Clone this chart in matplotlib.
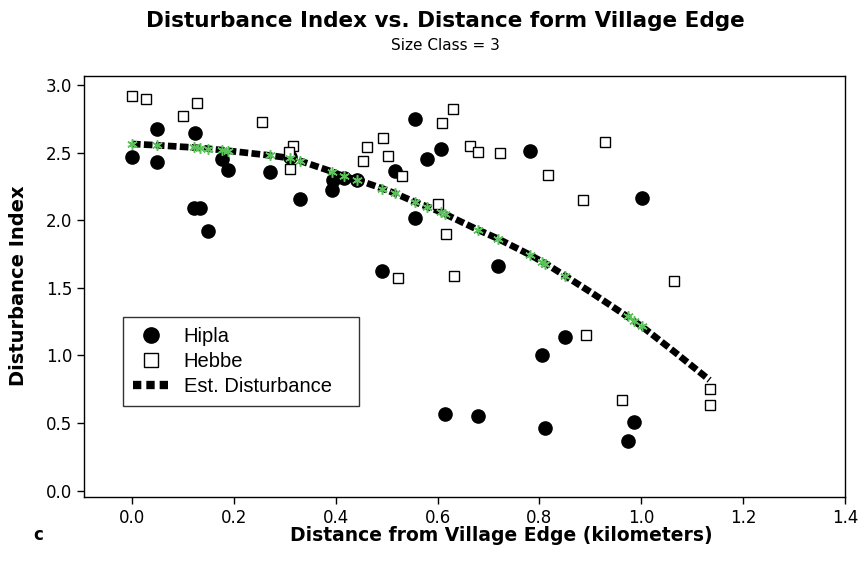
import matplotlib
matplotlib.use("Agg")
import matplotlib.pyplot as plt
from matplotlib.lines import Line2D

# ── Data ──────────────────────────────────────────────────────────────────────
hipla_x = [0.000, 0.050, 0.050, 0.124, 0.122, 0.134, 0.149, 0.176, 0.188, 0.271,
           0.310, 0.330, 0.393, 0.395, 0.416, 0.442, 0.492, 0.516, 0.556, 0.556,
           0.580, 0.607, 0.615, 0.679, 0.718, 0.781, 0.806, 0.812, 0.850, 0.973,
           0.986, 1.001]
hipla_y = [2.465, 2.674, 2.433, 2.645, 2.093, 2.093, 1.918, 2.452, 2.371, 2.359,
           2.470, 2.155, 2.223, 2.297, 2.310, 2.297, 1.626, 2.366, 2.746, 2.014,
           2.450, 2.525, 0.567, 0.554, 1.664, 2.514, 1.003, 0.461, 1.134, 0.367,
           0.505, 2.162]

hebbe_x = [0.000, 0.028, 0.100, 0.127, 0.256, 0.317, 0.309, 0.310, 0.453, 0.461,
           0.493, 0.503, 0.523, 0.531, 0.601, 0.609, 0.617, 0.630, 0.632, 0.664,
           0.679, 0.723, 0.817, 0.886, 0.891, 0.929, 0.963, 1.064, 1.134, 1.134]
hebbe_y = [2.920, 2.894, 2.773, 2.869, 2.729, 2.551, 2.502, 2.379, 2.440, 2.544,
           2.606, 2.475, 1.570, 2.327, 2.120, 2.721, 1.898, 2.822, 1.590, 2.549,
           2.502, 2.495, 2.337, 2.149, 1.151, 2.581, 0.670, 1.553, 0.751, 0.633]

# estimated disturbance curve
est_x = [0.000, 0.050, 0.124, 0.149, 0.188, 0.271, 0.310, 0.330, 0.393, 0.416,
         0.442, 0.492, 0.516, 0.556, 0.580, 0.607, 0.679, 0.718, 0.781, 0.812,
         0.850, 0.900, 0.950, 1.001, 1.064, 1.134]
est_y = [2.565, 2.555, 2.538, 2.530, 2.515, 2.480, 2.460, 2.440, 2.360, 2.325,
         2.300, 2.235, 2.200, 2.135, 2.100, 2.060, 1.930, 1.865, 1.745, 1.680,
         1.590, 1.470, 1.345, 1.215, 1.030, 0.818]

# fitted values at the Hipla distances (green stars)
star_x = [0.000, 0.050, 0.122, 0.134, 0.149, 0.176, 0.188, 0.271, 0.310, 0.330,
          0.393, 0.416, 0.442, 0.492, 0.516, 0.556, 0.580, 0.607, 0.615, 0.679,
          0.718, 0.781, 0.806, 0.812, 0.850, 0.973, 0.986, 1.001]
star_y = [2.565, 2.555, 2.540, 2.535, 2.530, 2.520, 2.515, 2.480, 2.460, 2.440,
          2.360, 2.325, 2.300, 2.235, 2.200, 2.135, 2.100, 2.060, 2.045, 1.930,
          1.865, 1.745, 1.690, 1.680, 1.590, 1.290, 1.255, 1.215]

x_ticks = [0.0, 0.2, 0.4, 0.6, 0.8, 1.0, 1.2, 1.4]
y_ticks = [0.0, 0.5, 1.0, 1.5, 2.0, 2.5, 3.0]

plt.rcParams["font.family"] = ["DejaVu Sans"]

fig = plt.figure(figsize=(8.59, 5.72), dpi=100)
ax = fig.add_axes([0.0978, 0.131, 0.8859, 0.736])

ax.plot(est_x, est_y, color="black", linewidth=4.8, linestyle=(0, (1.3, 0.5)),
        dash_capstyle="butt", zorder=2)
ax.plot(hipla_x, hipla_y, "o", color="black", markersize=9.5,
        linestyle="none", zorder=3)
ax.plot(hebbe_x, hebbe_y, "s", markerfacecolor="white", markeredgecolor="black",
        markeredgewidth=1.0, markersize=7.6, linestyle="none", zorder=4)
ax.plot(star_x, star_y, marker=(6, 2, 0), color="#5cc25c", markersize=7.5,
        markeredgewidth=1.1, linestyle="none", zorder=5)

ax.set_xlim(-0.094, 1.4)
ax.set_ylim(-0.048, 3.067)
ax.set_xticks(x_ticks)
ax.set_yticks(y_ticks)
ax.set_xticklabels([f"{v:.1f}" for v in x_ticks])
ax.set_yticklabels([f"{v:.1f}" for v in y_ticks])
ax.tick_params(direction="out", length=5, width=1, labelsize=12, colors="black")
for sp in ax.spines.values():
    sp.set_linewidth(1.0)
    sp.set_color("black")

# legend with proxy handles so the line sample shows three big squares
leg_handles = [
    Line2D([], [], marker="o", color="black", markersize=11, linestyle="none"),
    Line2D([], [], marker="s", markerfacecolor="white", markeredgecolor="black",
           markeredgewidth=1.0, markersize=10, linestyle="none"),
    Line2D([], [], color="black", linewidth=6, linestyle=(0, (1.0, 0.6)),
           dash_capstyle="butt"),
]
leg_labels = ["Hipla", "Hebbe", "Est. Disturbance"]
leg = ax.legend(leg_handles, leg_labels,
                loc="lower left", bbox_to_anchor=(0.0517, 0.217, 0.3102, 0.211),
                mode="expand",
                prop={"family": "Liberation Sans", "size": 14.5},
                frameon=True, fancybox=False, edgecolor="black",
                borderpad=0.5, labelspacing=0.28, handlelength=1.74,
                handletextpad=0.75, borderaxespad=0)
leg.get_frame().set_linewidth(1.0)

fig.text(0.518, 0.963, "Disturbance Index vs. Distance form Village Edge",
         ha="center", va="center", fontsize=15.5, fontweight="bold")
fig.text(0.518, 0.921, "Size Class = 3", ha="center", va="center", fontsize=11)
fig.text(0.584, 0.064, "Distance from Village Edge (kilometers)",
         ha="center", va="center", fontsize=13.5, fontweight="bold")
fig.text(0.021, 0.50, "Disturbance Index", ha="center", va="center",
         rotation=90, fontsize=14, fontweight="bold")
fig.text(0.044, 0.064, "c", ha="center", va="center", fontsize=12,
         fontweight="bold")

fig.savefig("out.png", dpi=100)
